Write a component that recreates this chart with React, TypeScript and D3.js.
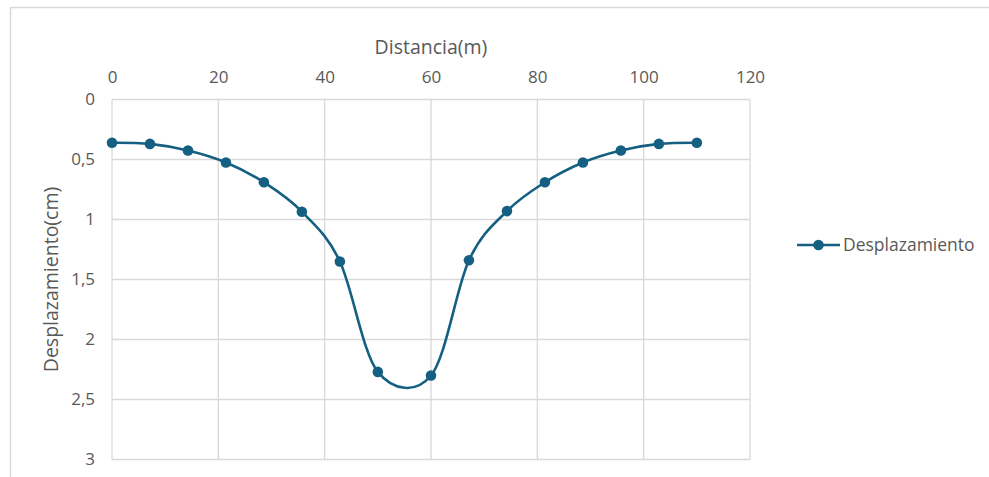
import React, { useEffect, useRef } from 'react';
import * as d3 from 'd3';

// distancia (m)
const distancia = [0, 7.14, 14.29, 21.43, 28.57, 35.71, 42.86, 50, 60, 67.14, 74.29, 81.43, 88.57, 95.71, 102.86, 110];
// desplazamiento (cm)
const desplazamiento = [0.36, 0.37, 0.425, 0.525, 0.69, 0.935, 1.35, 2.27, 2.3, 1.34, 0.93, 0.69, 0.525, 0.425, 0.37, 0.36];

const xTicks = [0, 20, 40, 60, 80, 100, 120];
const yTicks = [0, 0.5, 1, 1.5, 2, 2.5, 3];

const serieNombre = 'Desplazamiento';
const tituloX = 'Distancia(m)';
const tituloY = 'Desplazamiento(cm)';

const W = 989;
const H = 477;
const FONT = '"Open Sans", "Liberation Sans", sans-serif';
const LINE_COLOR = '#156082';
const TEXT_COLOR = '#595959';
const GRID_COLOR = '#d9d9d9';

const App: React.FC = () => {
  const ref = useRef<SVGSVGElement>(null);

  useEffect(() => {
    const svg = d3.select(ref.current);
    svg.selectAll('*').remove();

    const margin = { left: 112, top: 99.5, right: 239, bottom: 17.5 };
    const x = d3.scaleLinear().domain([0, 120]).range([margin.left, W - margin.right]);
    const y = d3.scaleLinear().domain([0, 3]).range([margin.top, H - margin.bottom]);

    // chart frame (top and left edges visible)
    svg.append('path')
      .attr('d', `M10.5,${H} V7.5 H${W}`)
      .attr('fill', 'none')
      .attr('stroke', GRID_COLOR)
      .attr('stroke-width', 1.5);

    const grid = svg.append('g');
    xTicks.forEach(t => {
      grid.append('line')
        .attr('x1', x(t)).attr('x2', x(t))
        .attr('y1', y(0)).attr('y2', y(3))
        .attr('stroke', GRID_COLOR).attr('stroke-width', 1.3);
    });
    yTicks.forEach(t => {
      grid.append('line')
        .attr('x1', x(0)).attr('x2', x(120))
        .attr('y1', y(t)).attr('y2', y(t))
        .attr('stroke', GRID_COLOR).attr('stroke-width', 1.3);
    });

    // x axis on top
    const xAxis = svg.append('g')
      .attr('transform', `translate(0,${y(0)})`)
      .call(d3.axisTop(x).tickValues(xTicks).tickSize(0).tickPadding(17).tickFormat(d3.format('d')));
    xAxis.select('.domain').remove();
    xAxis.selectAll('text')
      .attr('fill', TEXT_COLOR)
      .style('font-family', FONT)
      .style('font-size', '17px');

    // y axis (inverted)
    const yAxis = svg.append('g')
      .attr('transform', `translate(${x(0)},0)`)
      .call(d3.axisLeft(y).tickValues(yTicks).tickSize(0).tickPadding(17)
        .tickFormat(d => String(d).replace('.', ',')));
    yAxis.select('.domain').remove();
    yAxis.selectAll('text')
      .attr('fill', TEXT_COLOR)
      .style('font-family', FONT)
      .style('font-size', '17px');

    // axis titles
    svg.append('text')
      .attr('x', (x(0) + x(120)) / 2)
      .attr('y', 54)
      .attr('text-anchor', 'middle')
      .attr('fill', TEXT_COLOR)
      .style('font-family', FONT)
      .style('font-size', '19.5px')
      .text(tituloX);

    svg.append('text')
      .attr('transform', `translate(58,${(y(0) + y(3)) / 2}) rotate(-90)`)
      .attr('text-anchor', 'middle')
      .attr('fill', TEXT_COLOR)
      .style('font-family', FONT)
      .style('font-size', '19.5px')
      .text(tituloY);

    const pts = distancia.map((d, i) => [d, desplazamiento[i]] as [number, number]);

    const line = d3.line<[number, number]>()
      .x(d => x(d[0]))
      .y(d => y(d[1]))
      .curve(d3.curveCardinal.tension(0));

    svg.append('path')
      .datum(pts)
      .attr('fill', 'none')
      .attr('stroke', LINE_COLOR)
      .attr('stroke-width', 2.6)
      .attr('d', line);

    svg.append('g')
      .selectAll('circle')
      .data(pts)
      .enter()
      .append('circle')
      .attr('cx', d => x(d[0]))
      .attr('cy', d => y(d[1]))
      .attr('r', 5.3)
      .attr('fill', LINE_COLOR);

    // legend
    const legend = svg.append('g').attr('transform', 'translate(797,245)');
    legend.append('line')
      .attr('x1', 0).attr('x2', 43)
      .attr('stroke', LINE_COLOR).attr('stroke-width', 2.6);
    legend.append('circle').attr('cx', 21.5).attr('r', 5.3).attr('fill', LINE_COLOR);
    legend.append('text')
      .attr('x', 46)
      .attr('y', 6)
      .attr('fill', TEXT_COLOR)
      .style('font-family', FONT)
      .style('font-size', '17.5px')
      .text(serieNombre);
  }, []);

  return (
    <svg
      ref={ref}
      width={W}
      height={H}
      style={{ position: 'absolute', left: 0, top: 0, background: '#fff' }}
    />
  );
};

export default App;
